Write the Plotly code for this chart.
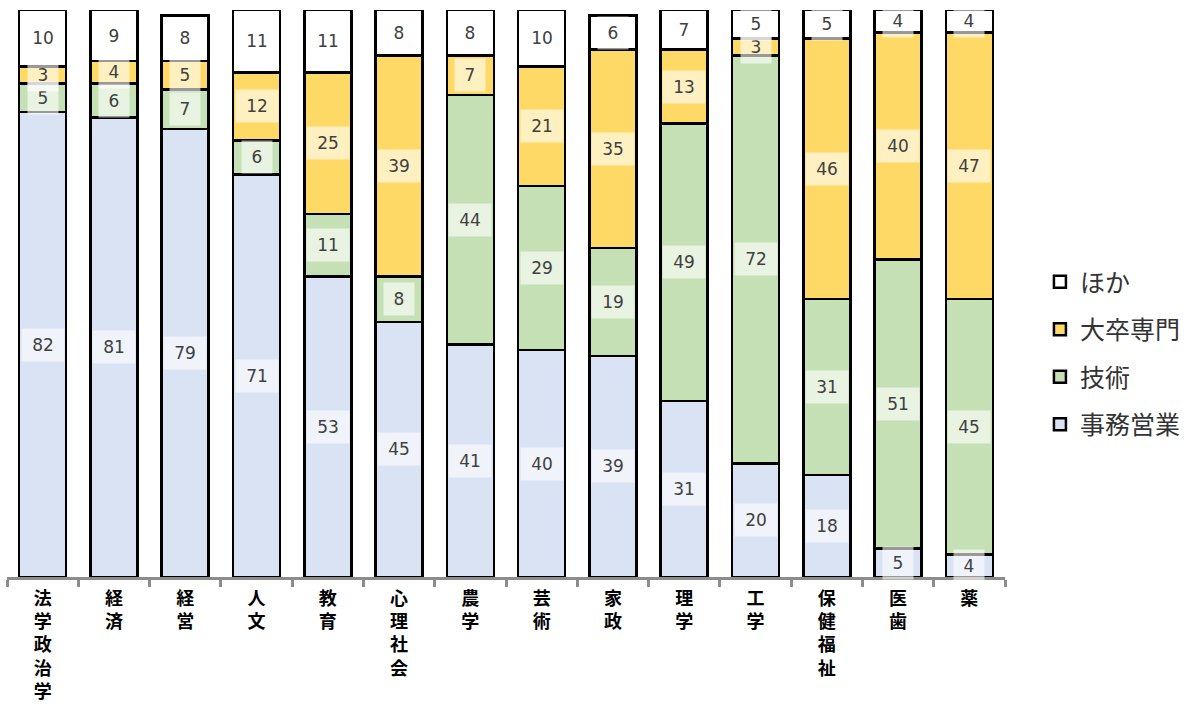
import plotly.graph_objects as go

categories = ["法学政治学", "経済", "経営", "人文", "教育", "心理社会", "農学", "芸術",
              "家政", "理学", "工学", "保健福祉", "医歯", "薬"]
jimu = [82, 81, 79, 71, 53, 45, 41, 40, 39, 31, 20, 18, 5, 4]
gijutsu = [5, 6, 7, 6, 11, 8, 44, 29, 19, 49, 72, 31, 51, 45]
daisotsu = [3, 4, 5, 12, 25, 39, 7, 21, 35, 13, 3, 46, 40, 47]
hoka = [10, 9, 8, 11, 11, 8, 8, 10, 6, 7, 5, 5, 4, 4]

series = [("事務営業", jimu, "#DAE3F3"),
          ("技術", gijutsu, "#C5E0B4"),
          ("大卒専門", daisotsu, "#FFD966"),
          ("ほか", hoka, "#FFFFFF")]

fig = go.Figure()
n = len(series)
for i, (name, vals, col) in enumerate(series):
    fig.add_trace(go.Bar(
        x=categories, y=vals, name=name, legendgroup=name,
        legendrank=1000 + (n - i),
        marker=dict(color=col, line=dict(color="black", width=2.5)),
    ))

# value labels with translucent white boxes
base = [0] * len(categories)
for name, vals, col in series:
    for j, v in enumerate(vals):
        mid = base[j] + v / 2
        fig.add_annotation(
            x=categories[j], y=mid, text=str(v), showarrow=False,
            font=dict(family="DejaVu Sans", size=17, color="#404040"),
            bgcolor="rgba(255,255,255,0.6)",
            width=12 * len(str(v)) + 16, height=30,
        )
        base[j] += v

ticktext = ["<br>".join(list(c)) for c in categories]

fig.update_layout(
    width=1203, height=711,
    margin=dict(l=7, r=198, t=10, b=134),
    barmode="stack", bargap=0.34,
    plot_bgcolor="white", paper_bgcolor="white",
    showlegend=True,
    legend=dict(
        x=1.035, y=0.395, xanchor="left", yanchor="middle",
        traceorder="grouped", tracegroupgap=12,
        font=dict(family="Noto Sans CJK JP", size=25, color="#333333"),
    ),
    xaxis=dict(
        tickmode="array", tickvals=categories, ticktext=ticktext,
        showline=True, linecolor="#8C8C8C", linewidth=3,
        ticks="outside", tickson="boundaries", ticklen=7, tickwidth=3,
        tickcolor="#8C8C8C", ticklabelstandoff=3, automargin=False,
        tickfont=dict(family="Noto Sans CJK JP", size=18, color="black", weight="bold"),
        tickangle=0,
    ),
    yaxis=dict(range=[0, 100], visible=False, showgrid=False),
)

fig.write_html("out.html")
